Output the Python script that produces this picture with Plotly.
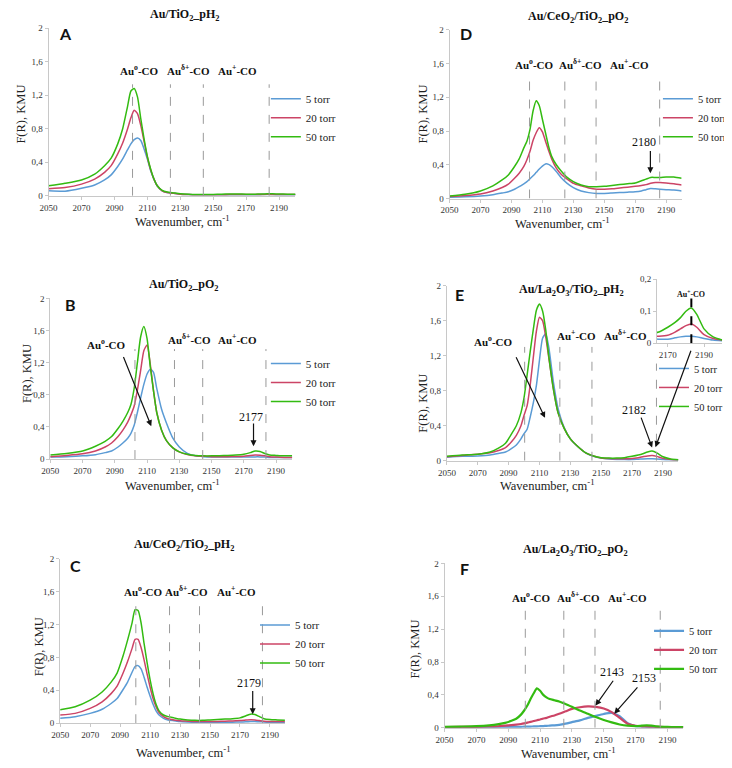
import plotly.graph_objects as go

# page body adds an 8px margin; the figure is sized so that it fills the visible window
OFF = 8
FW, FH = 724, 760

# ---------------- data ----------------
wn = [2050, 2060, 2070, 2078, 2084, 2088, 2092, 2095, 2098, 2100, 2102, 2104, 2106, 2108, 2110,
      2112, 2114, 2116, 2119, 2122, 2126, 2130, 2135, 2140, 2145, 2150, 2155, 2160, 2165, 2170,
      2174, 2177, 2180, 2183, 2186, 2190, 2195, 2200]

series_names = ["5 torr", "20 torr", "50 torr"]

# Panel A  Au/TiO2_pH2
a_5 = [0.06, 0.055, 0.09, 0.13, 0.19, 0.25, 0.35, 0.44, 0.55, 0.62, 0.67, 0.69, 0.66, 0.56, 0.44,
       0.30, 0.20, 0.12, 0.06, 0.04, 0.03, 0.02, 0.015, 0.012, 0.012, 0.012, 0.012, 0.013, 0.013, 0.013,
       0.013, 0.014, 0.015, 0.016, 0.015, 0.014, 0.013, 0.013]
a_20 = [0.086, 0.10, 0.14, 0.20, 0.28, 0.36, 0.50, 0.63, 0.80, 0.93, 1.02, 0.98, 0.84, 0.65, 0.46,
        0.31, 0.20, 0.12, 0.06, 0.04, 0.03, 0.02, 0.015, 0.012, 0.012, 0.012, 0.013, 0.015, 0.015, 0.015,
        0.015, 0.016, 0.017, 0.018, 0.017, 0.015, 0.015, 0.015]
a_50 = [0.12, 0.15, 0.19, 0.26, 0.36, 0.45, 0.62, 0.80, 1.07, 1.25, 1.28, 1.18, 0.92, 0.68, 0.47,
        0.32, 0.20, 0.12, 0.065, 0.045, 0.035, 0.025, 0.018, 0.015, 0.015, 0.017, 0.02, 0.022, 0.022, 0.02,
        0.02, 0.021, 0.022, 0.025, 0.025, 0.022, 0.02, 0.02]

# Panel B  Au/TiO2_pO2
b_5 = [0.025, 0.03, 0.04, 0.055, 0.08, 0.10, 0.15, 0.20, 0.26, 0.32, 0.42, 0.58, 0.76, 0.93, 1.06,
       1.12, 1.08, 0.88, 0.62, 0.45, 0.26, 0.15, 0.07, 0.04, 0.03, 0.025, 0.025, 0.025, 0.025, 0.025,
       0.025, 0.027, 0.027, 0.025, 0.02, 0.02, 0.02, 0.02]
b_20 = [0.03, 0.045, 0.065, 0.10, 0.15, 0.20, 0.28, 0.36, 0.46, 0.55, 0.66, 0.86, 1.10, 1.35, 1.42,
        1.18, 0.85, 0.58, 0.36, 0.23, 0.14, 0.09, 0.055, 0.04, 0.035, 0.03, 0.03, 0.03, 0.032, 0.036,
        0.045, 0.05, 0.048, 0.04, 0.03, 0.025, 0.02, 0.02]
b_50 = [0.05, 0.07, 0.10, 0.16, 0.22, 0.28, 0.38, 0.47, 0.58, 0.68, 0.88, 1.20, 1.52, 1.65, 1.50,
        1.15, 0.85, 0.58, 0.36, 0.23, 0.14, 0.09, 0.06, 0.045, 0.04, 0.04, 0.042, 0.045, 0.05, 0.06,
        0.08, 0.10, 0.095, 0.07, 0.05, 0.045, 0.04, 0.04]

# Panel C  Au/CeO2/TiO2_pH2
c_5 = [0.06, 0.08, 0.12, 0.17, 0.24, 0.30, 0.41, 0.50, 0.62, 0.69, 0.70, 0.66, 0.56, 0.44, 0.33,
       0.23, 0.15, 0.10, 0.06, 0.04, 0.03, 0.02, 0.015, 0.012, 0.012, 0.012, 0.012, 0.012, 0.013, 0.015,
       0.018, 0.02, 0.02, 0.018, 0.015, 0.012, 0.01, 0.01]
c_20 = [0.10, 0.12, 0.18, 0.26, 0.36, 0.45, 0.61, 0.75, 0.91, 1.02, 1.02, 0.92, 0.77, 0.60, 0.44,
        0.30, 0.20, 0.13, 0.08, 0.055, 0.04, 0.03, 0.025, 0.02, 0.02, 0.02, 0.022, 0.025, 0.028, 0.032,
        0.038, 0.042, 0.04, 0.032, 0.025, 0.02, 0.02, 0.02]
c_50 = [0.165, 0.20, 0.28, 0.38, 0.50, 0.61, 0.82, 1.01, 1.22, 1.38, 1.37, 1.22, 0.97, 0.74, 0.53,
        0.36, 0.23, 0.15, 0.10, 0.08, 0.065, 0.05, 0.04, 0.035, 0.035, 0.04, 0.045, 0.05, 0.055, 0.065,
        0.09, 0.11, 0.105, 0.08, 0.055, 0.045, 0.04, 0.035]

# Panel D  Au/CeO2/TiO2_pO2
d_5 = [0.015, 0.02, 0.03, 0.045, 0.065, 0.08, 0.11, 0.14, 0.175, 0.20, 0.235, 0.27, 0.31, 0.35, 0.385,
       0.41, 0.405, 0.38, 0.32, 0.25, 0.18, 0.13, 0.09, 0.07, 0.06, 0.06, 0.065, 0.07, 0.075, 0.08,
       0.09, 0.105, 0.12, 0.115, 0.11, 0.105, 0.10, 0.09]
d_20 = [0.023, 0.035, 0.055, 0.09, 0.13, 0.17, 0.24, 0.30, 0.38, 0.46, 0.56, 0.69, 0.78, 0.84, 0.79,
        0.68, 0.57, 0.47, 0.36, 0.29, 0.23, 0.18, 0.15, 0.125, 0.11, 0.11, 0.115, 0.125, 0.135, 0.145,
        0.155, 0.165, 0.18, 0.19, 0.19, 0.185, 0.175, 0.16]
d_50 = [0.03, 0.05, 0.09, 0.15, 0.22, 0.28, 0.38, 0.47, 0.60, 0.68, 0.82, 1.04, 1.16, 1.10, 0.94,
        0.78, 0.62, 0.50, 0.40, 0.33, 0.25, 0.20, 0.16, 0.14, 0.14, 0.145, 0.155, 0.165, 0.175, 0.185,
        0.21, 0.23, 0.25, 0.25, 0.25, 0.255, 0.255, 0.24]

# Panel E  Au/La2O3/TiO2_pH2
e_5 = [0.04, 0.05, 0.055, 0.065, 0.085, 0.10, 0.14, 0.18, 0.25, 0.31, 0.36, 0.50, 0.66, 0.86, 1.15,
       1.40, 1.45, 1.30, 0.90, 0.60, 0.38, 0.25, 0.16, 0.09, 0.05, 0.03, 0.02, 0.015, 0.013, 0.013,
       0.017, 0.02, 0.022, 0.022, 0.02, 0.015, 0.01, 0.008]
e_20 = [0.045, 0.06, 0.075, 0.09, 0.12, 0.15, 0.22, 0.29, 0.40, 0.52, 0.63, 0.87, 1.18, 1.48, 1.64,
        1.60, 1.42, 1.18, 0.82, 0.55, 0.37, 0.25, 0.16, 0.09, 0.055, 0.032, 0.025, 0.022, 0.022, 0.025,
        0.035, 0.045, 0.055, 0.06, 0.05, 0.027, 0.015, 0.01]
e_50 = [0.05, 0.065, 0.075, 0.10, 0.15, 0.20, 0.31, 0.40, 0.55, 0.72, 0.98, 1.25, 1.50, 1.72, 1.79,
        1.71, 1.50, 1.20, 0.82, 0.55, 0.37, 0.25, 0.16, 0.09, 0.055, 0.035, 0.03, 0.03, 0.035, 0.05,
        0.065, 0.08, 0.10, 0.11, 0.09, 0.045, 0.02, 0.01]

# Panel F  Au/La2O3/TiO2_pO2
f_5 = [0.008, 0.008, 0.008, 0.009, 0.01, 0.01, 0.011, 0.012, 0.012, 0.013, 0.014, 0.015, 0.016, 0.017, 0.019,
       0.021, 0.023, 0.026, 0.03, 0.036, 0.05, 0.068, 0.09, 0.12, 0.145, 0.168, 0.18, 0.14, 0.055, 0.02,
       0.015, 0.012, 0.01, 0.009, 0.008, 0.008, 0.008, 0.008]
f_20 = [0.008, 0.01, 0.012, 0.016, 0.02, 0.025, 0.032, 0.038, 0.046, 0.053, 0.062, 0.072, 0.082, 0.092, 0.10,
        0.112, 0.12, 0.135, 0.15, 0.17, 0.20, 0.23, 0.25, 0.26, 0.255, 0.235, 0.19, 0.12, 0.05, 0.025,
        0.018, 0.016, 0.014, 0.012, 0.01, 0.009, 0.008, 0.008]
f_50 = [0.012, 0.015, 0.02, 0.03, 0.045, 0.06, 0.085, 0.11, 0.16, 0.21, 0.27, 0.35, 0.42, 0.48, 0.45,
        0.40, 0.37, 0.35, 0.335, 0.32, 0.29, 0.255, 0.21, 0.17, 0.13, 0.095, 0.065, 0.04, 0.025, 0.02,
        0.025, 0.028, 0.025, 0.018, 0.012, 0.01, 0.008, 0.008]

x_ticks = [2050, 2070, 2090, 2110, 2130, 2150, 2170, 2190]
y_ticks = [0, 0.4, 0.8, 1.2, 1.6, 2]
y_ticktext = ["0", "0,4", "0,8", "1,2", "1,6", "2"]
inset_x_ticks = [2170, 2190]
inset_y_ticks = [0, 0.1, 0.2]
inset_y_ticktext = ["0", "0,1", "0,2"]

# band-region boundaries (cm-1) per panel
dash_A = [2101, 2124, 2144, 2184]
dash_B = [2102.5, 2127, 2144.5, 2183.7]
dash_C = [2100.5, 2123, 2143, 2185]
dash_D = [2101.7, 2124.5, 2144.7, 2185.8]
dash_E = [2100.4, 2123.2, 2144, 2185.8]
dash_F = [2100.7, 2124.9, 2144.5, 2185.5]
inset_dash = 2183

colors = ["#5b9bd5", "#cc4466", "#33bb11"]
SERIF = '"Liberation Serif", "Times New Roman", Times, serif'
SANS = 'Lato, "Open Sans", sans-serif'

# ---------------- layout helpers (screen pixels -> paper) ----------------
def px(x):
    return (x - OFF) / FW

def py(y):
    return 1 - (y - OFF) / FH

# panel pixel boxes: left(2050), right(2200), bottom(val 0), top(val 2)
panels = {
    "A": dict(ax="", box=(40, 290, 193.3, 23.3), data=(a_5, a_20, a_50), dash=dash_A, dtop=[1.33] * 4, lw=1.5,
              leg=(303, 116.7), lfs=11, ytitle=(12, 110), xtitle=(176, 219)),
    "B": dict(ax="2", box=(41.7, 286.7, 460, 297.3), data=(b_5, b_20, b_50), dash=dash_B, dtop=[1.37] * 4, lw=1.5,
              leg=(303, 385), lfs=11, ytitle=(18, 373), xtitle=(165, 486)),
    "C": dict(ax="3", box=(51.7, 279.3, 727.7, 561), data=(c_5, c_20, c_50), dash=dash_C, dtop=[1.48] * 4, lw=1.5,
              leg=(292, 650), lfs=11, ytitle=(30, 650), xtitle=(177, 757)),
    "D": dict(ax="4", box=(446, 681, 196, 25), data=(d_5, d_20, d_50), dash=dash_D, dtop=[1.45] * 4, lw=1.5,
              leg=(700, 116.7), lfs=10.5, ytitle=(419, 110), xtitle=(560, 221)),
    "E": dict(ax="5", box=(443.3, 677.7, 461.7, 284.3), data=(e_5, e_20, e_50), dash=dash_E,
              dtop=[1.30, 1.30, 1.30, 1.11], lw=1.5, leg=(696, 390), lfs=10.5, ytitle=(419, 403),
              xtitle=(545, 486)),
    "F": dict(ax="6", box=(441, 682.7, 732.3, 565.7), data=(f_5, f_20, f_50), dash=dash_F, dtop=[1.47] * 4, lw=2.2,
              leg=(691, 656), lfs=10.5, ytitle=(411, 652), xtitle=(566, 758)),
}

fig = go.Figure()
layout = dict(width=FW, height=FH, margin=dict(l=0, r=0, t=0, b=0),
              paper_bgcolor="white", plot_bgcolor="white", showlegend=True,
              font=dict(family=SERIF))
shapes = []
annotations = []

def text_ann(**kw):
    d = dict(showarrow=False, xanchor="center", yanchor="middle")
    d.update(kw)
    annotations.append(d)

axis_common = dict(showgrid=False, zeroline=False, showline=True, linecolor="#c8c8c8", linewidth=1,
                   ticks="outside", ticklen=3, tickcolor="#c8c8c8",
                   tickfont=dict(family=SERIF, size=9, color="#333333"))

for i, (key, p) in enumerate(panels.items()):
    s = p["ax"]
    x0, x1, yb, yt = p["box"]
    xr = "x" + s
    yr = "y" + s
    leg = "legend" + ("" if i == 0 else str(i + 1))
    layout["xaxis" + s] = dict(domain=[px(x0), px(x1)], range=[2050, 2200], anchor=yr, tickvals=x_ticks,
                               **axis_common)
    layout["yaxis" + s] = dict(domain=[py(yb), py(yt)], range=[0, 2], anchor=xr, tickvals=y_ticks,
                               ticktext=y_ticktext, **axis_common)
    for name, vals, col in zip(series_names, p["data"], colors):
        fig.add_trace(go.Scatter(x=wn, y=vals, mode="lines", name=name, xaxis=xr, yaxis=yr,
                                 line=dict(color=col, width=p["lw"], shape="spline", smoothing=0.6),
                                 legend=leg, showlegend=True))
    tx, cy = p["leg"]
    layout[leg] = dict(x=px(tx - 43), y=py(cy - 36.5), xanchor="left", yanchor="top", bgcolor="rgba(0,0,0,0)",
                       font=dict(family=SERIF, size=p["lfs"], color="#222"), tracegroupgap=0, itemwidth=30)
    for xv, top in zip(p["dash"], p["dtop"]):
        shapes.append(dict(type="line", xref=xr, yref=yr, x0=xv, x1=xv, y0=0, y1=top,
                           line=dict(color="#9a9a9a", width=1, dash="dash")))
    tx, ty = p["ytitle"]
    text_ann(xref="paper", yref="paper", text="F(R), KMU", textangle=-90,
             font=dict(family=SERIF, size=12.5, color="#222"), x=px(tx), y=py(ty))
    tx, ty = p["xtitle"]
    text_ann(xref="paper", yref="paper", x=px(tx), y=py(ty), text="Wavenumber, cm<sup>-1</sup>",
             font=dict(family=SERIF, size=12.5, color="#222"))

# inset for panel E
layout["xaxis7"] = dict(domain=[px(656), px(722)], range=[2164, 2200], anchor="y7", tickvals=inset_x_ticks,
                        **axis_common)
layout["yaxis7"] = dict(domain=[py(342.7), py(277.7)], range=[0, 0.2], anchor="x7", tickvals=inset_y_ticks,
                        ticktext=inset_y_ticktext, **axis_common)
for name, vals, col in zip(series_names, (e_5, e_20, e_50), colors):
    fig.add_trace(go.Scatter(x=wn, y=vals, mode="lines", name=name, xaxis="x7", yaxis="y7", showlegend=False,
                             line=dict(color=col, width=1.5, shape="spline", smoothing=0.6)))
shapes.append(dict(type="line", xref="x7", yref="y7", x0=inset_dash, x1=inset_dash, y0=0, y1=0.14,
                   line=dict(color="black", width=2, dash="dash")))
text_ann(xref="x7", yref="y7", x=inset_dash, y=0.155, text="<b>Au<sup>+</sup>-CO</b>",
         font=dict(family=SERIF, size=8, color="#111"))

# titles (screen pixel centres)
titles = [
    ("Au/TiO<sub>2</sub>_pH<sub>2</sub>", 178, 10),
    ("Au/CeO<sub>2</sub>/TiO<sub>2</sub>_pO<sub>2</sub>", 576, 12),
    ("Au/TiO<sub>2</sub>_pO<sub>2</sub>", 177, 284),
    ("Au/La<sub>2</sub>O<sub>3</sub>/TiO<sub>2</sub>_pH<sub>2</sub>", 569, 289),
    ("Au/CeO<sub>2</sub>/TiO<sub>2</sub>_pH<sub>2</sub>", 177, 547),
    ("Au/La<sub>2</sub>O<sub>3</sub>/TiO<sub>2</sub>_pO<sub>2</sub>", 574, 552),
]
for t, x, y in titles:
    text_ann(xref="paper", yref="paper", x=px(x), y=py(y), text="<b>" + t + "</b>",
             font=dict(family=SERIF, size=12, color="#111"))

letters = [("A", 57, 29), ("D", 463, 29), ("B", 62, 303), ("E", 456, 293), ("C", 67, 568), ("F", 461, 571)]
for t, x, y in letters:
    text_ann(xref="paper", yref="paper", x=px(x), y=py(y), text="<b>" + t + "</b>",
             font=dict(family=SANS, size=16, color="#111"))

AU0 = "<b>Au<sup>o</sup>-CO</b>"
AUD = "<b>Au<sup>δ+</sup>-CO</b>"
AUP = "<b>Au<sup>+</sup>-CO</b>"
band_labels = [
    ("", [(AU0, 2105, 1.50), (AUD, 2135, 1.50), (AUP, 2165, 1.50)]),
    ("2", [(AU0, 2085, 1.43), (AUD, 2136, 1.50), (AUP, 2166, 1.50)]),
    ("3", [(AU0, 2105.5, 1.61), (AUD, 2134.6, 1.61), (AUP, 2167.5, 1.61)]),
    ("4", [(AU0, 2105, 1.59), (AUD, 2134.5, 1.59), (AUP, 2166, 1.59)]),
    ("5", [(AU0, 2080.5, 1.37), (AUP, 2134, 1.44), (AUD, 2166, 1.44)]),
    ("6", [(AU0, 2104.8, 1.59), (AUD, 2134, 1.59), (AUP, 2165, 1.59)]),
]
for s, items in band_labels:
    for t, x, y in items:
        text_ann(xref="x" + s, yref="y" + s, x=x, y=y, text=t, font=dict(family=SERIF, size=11, color="#111"))

# numeric peak labels
num_labels = [("2", "2177", 2174.5, 0.53), ("3", "2179", 2176.3, 0.49), ("4", "2180", 2175.5, 0.675),
              ("5", "2182", 2171, 0.575), ("6", "2143", 2155.5, 0.676), ("6", "2153", 2175.2, 0.61)]
for s, t, x, y in num_labels:
    text_ann(xref="x" + s, yref="y" + s, x=x, y=y, text=t, font=dict(family=SERIF, size=12, color="#111"))

# arrows: (axis, head x, head y, tail x, tail y)
arrows = [("2", 2112.6, 0.41, 2095, 1.29), ("2", 2176, 0.16, 2176, 0.46),
          ("3", 2178.5, 0.11, 2178.5, 0.41), ("4", 2179.8, 0.30, 2179.8, 0.58),
          ("5", 2113.6, 0.49, 2094.4, 1.20), ("5", 2183, 0.15, 2175.5, 0.51),
          ("6", 2144.8, 0.27, 2156.6, 0.59), ("6", 2156.6, 0.17, 2172, 0.51)]
for s, hx, hy, tx, ty in arrows:
    annotations.append(dict(xref="x" + s, yref="y" + s, axref="x" + s, ayref="y" + s, x=hx, y=hy, ax=tx, ay=ty,
                            text="", showarrow=True, arrowhead=2, arrowsize=1, arrowwidth=1.2, arrowcolor="#111"))
# arrow from the inset down to the 2182 band
annotations.append(dict(xref="paper", yref="paper", x=px(654.5), y=py(448), ax=36, ay=-98, axref="pixel",
                        ayref="pixel", text="", showarrow=True, arrowhead=2, arrowsize=1, arrowwidth=1.2,
                        arrowcolor="#111"))

layout["shapes"] = shapes
layout["annotations"] = annotations
fig.update_layout(**layout)
fig.write_html("out.html")
